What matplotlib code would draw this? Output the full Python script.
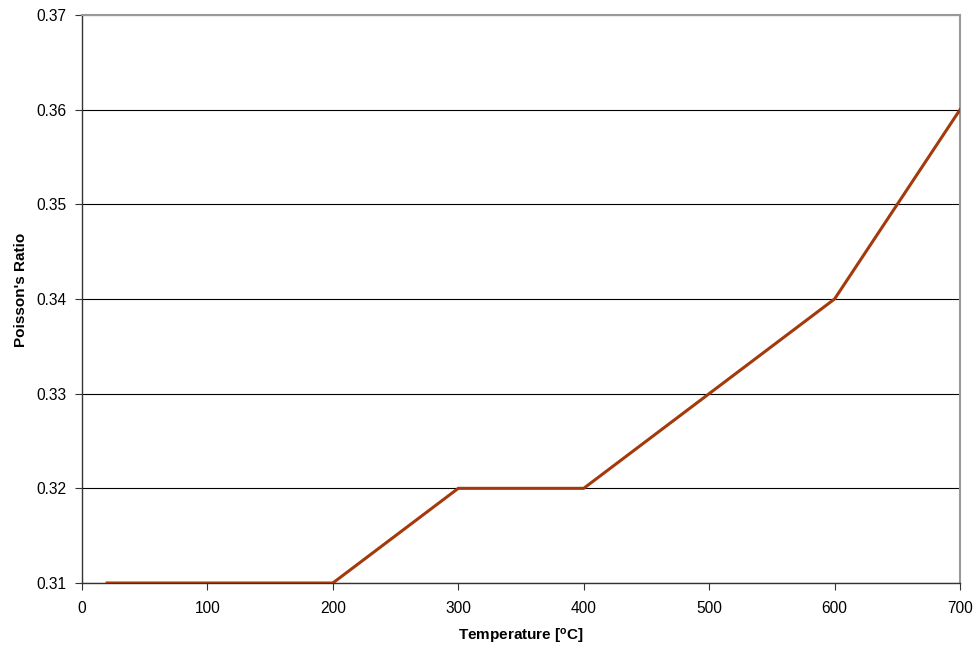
import matplotlib
matplotlib.use("Agg")
import matplotlib.pyplot as plt

temperature = [20, 200, 300, 400, 600, 700]
poisson = [0.31, 0.31, 0.32, 0.32, 0.34, 0.36]
xticks = [0, 100, 200, 300, 400, 500, 600, 700]
yticks = [0.31, 0.32, 0.33, 0.34, 0.35, 0.36, 0.37]

plt.rcParams['font.family'] = ['Liberation Sans', 'DejaVu Sans']

fig = plt.figure(figsize=(9.79, 6.54), dpi=100)
ax = fig.add_axes([82/979, 1-583/654, (960-82)/979, (583-15)/654])

ax.set_xlim(0, 700)
ax.set_ylim(0.31, 0.37)
ax.set_xticks(xticks)
ax.set_yticks(yticks)
ax.set_yticklabels([f"{v:.2f}" for v in yticks])
ax.yaxis.grid(True, color='#000000', linewidth=0.8)
ax.set_axisbelow(True)

ax.plot(temperature, poisson, color='#A33A0C', linewidth=2.2, solid_joinstyle='miter', zorder=3)

for s in ['left', 'bottom']:
    ax.spines[s].set_color('#333333')
    ax.spines[s].set_linewidth(1.0)
for s in ['top', 'right']:
    ax.spines[s].set_color('#999999')
    ax.spines[s].set_linewidth(1.5)

ax.tick_params(axis='both', direction='out', length=5, width=0.8, color='#333333', labelsize=11.2)
ax.tick_params(axis='x', pad=8)
ax.tick_params(axis='y', pad=6)

ax.set_xlabel('Temperature [$\\mathregular{^{o}}$C]', fontsize=11, fontweight='bold', labelpad=8)
ax.set_ylabel("Poisson's Ratio", fontsize=11, fontweight='bold')
ax.yaxis.set_label_coords(-0.0615, 0.516)

fig.savefig('out.png', dpi=100)
